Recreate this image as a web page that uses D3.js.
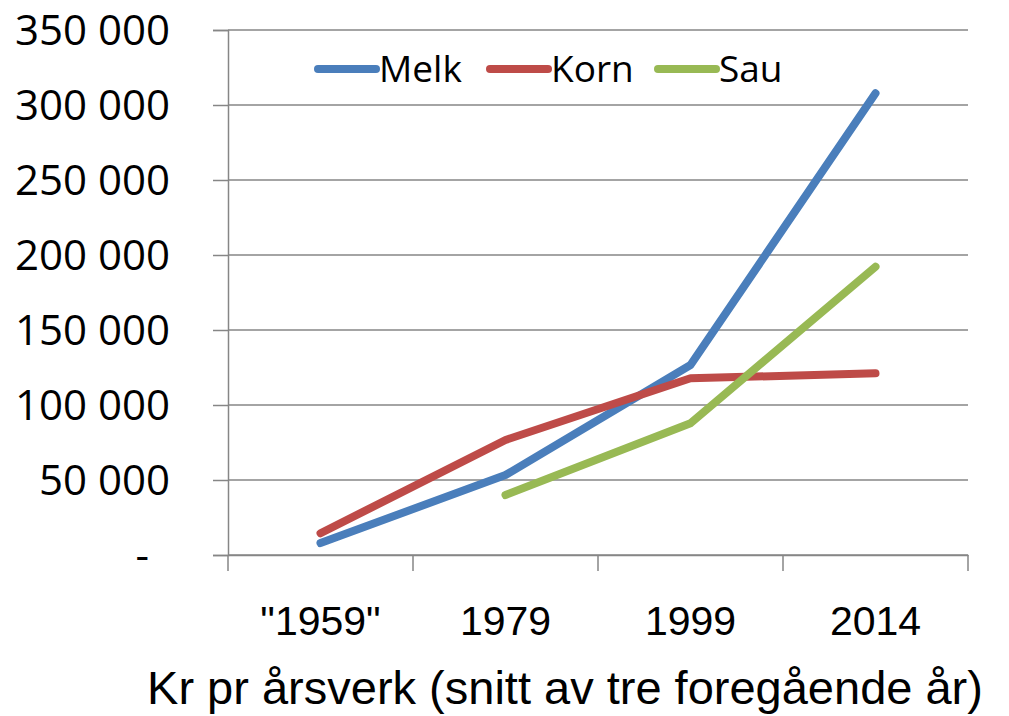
<!DOCTYPE html>
<html>
<head>
<meta charset="utf-8">
<script src="https://cdn.jsdelivr.net/npm/d3@7"></script>
<style>
  html, body { margin: 0; padding: 0; background: #fff; }
  svg { display: block; }
</style>
</head>
<body>
<svg id="chart" width="1009" height="716"></svg>
<script>
const categories = ['"1959"', "1979", "1999", "2014"];
const melk = [8000, 53300, 126700, 307800];
const korn = [14500, 76700, 117800, 121100];
const sau = [null, 40000, 87800, 192200];
const seriesNames = ["Melk", "Korn", "Sau"];
const seriesColors = ["#4A7EBB", "#BE4B48", "#98B954"];
const yTicks = [0, 50000, 100000, 150000, 200000, 250000, 300000, 350000];
const xTitle = "Kr pr årsverk (snitt av tre foregående år)";

const series = [melk, korn, sau];

const svg = d3.select("#chart");
const plotLeft = 228, plotRight = 968, plotTop = 30, plotBottom = 555;

const x = d3.scaleBand().domain(categories).range([plotLeft, plotRight]).padding(0);
const y = d3.scaleLinear().domain([0, 350000]).range([plotBottom, plotTop]);

const grid = "#868686";

// gridlines
svg.append("g").selectAll("line").data(yTicks).join("line")
  .attr("x1", plotLeft).attr("x2", plotRight)
  .attr("y1", d => y(d)).attr("y2", d => y(d))
  .attr("stroke", grid).attr("stroke-width", 1.5);

// y axis
const fmt = d => d === 0 ? "-" : d3.format(",")(d).replace(/,/g, " ");
const yAxis = svg.append("g").attr("transform", `translate(${plotLeft},0)`)
  .call(d3.axisLeft(y).tickValues(yTicks).tickSize(15).tickPadding(0).tickFormat(fmt));
yAxis.select(".domain").attr("stroke", grid).attr("stroke-width", 1.5);
yAxis.selectAll(".tick line").attr("stroke", grid).attr("stroke-width", 1.5);
yAxis.selectAll(".tick text")
  .attr("x", d => d === 0 ? -79 : -58)
  .attr("dy", "0.35em")
  .attr("fill", "#000")
  .style("font-family", "'Open Sans', sans-serif")
  .style("font-size", "42px");

// x axis
const xAxis = svg.append("g").attr("transform", `translate(0,${plotBottom})`)
  .call(d3.axisBottom(x).tickSize(0).tickPadding(0));
xAxis.select(".domain").attr("stroke", grid).attr("stroke-width", 1.5);
xAxis.selectAll(".tick line").remove();
xAxis.selectAll(".tick text")
  .attr("y", 66).attr("dy", "0.35em").attr("fill", "#000")
  .style("font-family", "'Liberation Sans', Arial, sans-serif")
  .style("font-size", "41px");
// category boundary ticks
const bounds = categories.map(c => x(c)).concat([x(categories[categories.length - 1]) + x.bandwidth()]);
svg.append("g").selectAll("line").data(bounds).join("line")
  .attr("x1", d => d).attr("x2", d => d)
  .attr("y1", plotBottom).attr("y2", plotBottom + 16)
  .attr("stroke", grid).attr("stroke-width", 1.5);

// lines
const line = d3.line()
  .defined(d => d.v !== null)
  .x(d => x(d.c) + x.bandwidth() / 2)
  .y(d => y(d.v));

series.forEach((s, i) => {
  svg.append("path")
    .datum(categories.map((c, j) => ({ c, v: s[j] })))
    .attr("d", line)
    .attr("fill", "none")
    .attr("stroke", seriesColors[i])
    .attr("stroke-width", 8)
    .attr("stroke-linecap", "round")
    .attr("stroke-linejoin", "round");
});

// legend
const legendX = [318, 490, 658];
const legendY = 69;
const lg = svg.append("g");
seriesNames.forEach((n, i) => {
  lg.append("line")
    .attr("x1", legendX[i]).attr("x2", legendX[i] + 58)
    .attr("y1", legendY).attr("y2", legendY)
    .attr("stroke", seriesColors[i]).attr("stroke-width", 8)
    .attr("stroke-linecap", "round");
  lg.append("text")
    .attr("x", legendX[i] + 61).attr("y", legendY).attr("dy", "0.35em")
    .style("font-family", "'Open Sans', sans-serif")
    .style("font-size", "37px")
    .attr("fill", "#000")
    .text(n);
});

// x title
svg.append("text")
  .attr("x", 565).attr("y", 704)
  .attr("text-anchor", "middle")
  .style("font-family", "'Liberation Sans', Arial, sans-serif")
  .style("font-size", "47px")
  .attr("fill", "#000")
  .text(xTitle);
</script>
</body>
</html>
